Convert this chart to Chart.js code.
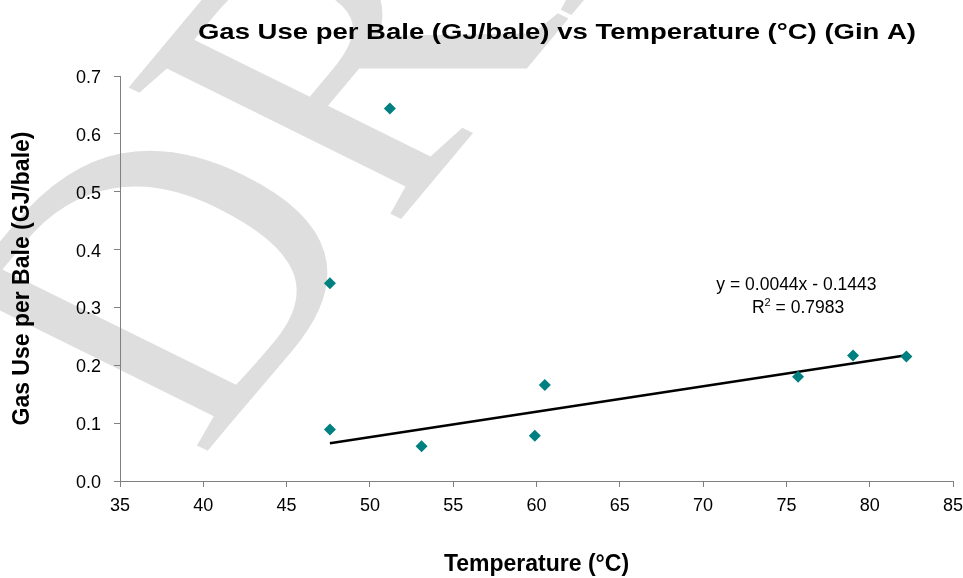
<!DOCTYPE html>
<html>
<head>
<meta charset="utf-8">
<script src="https://cdn.jsdelivr.net/npm/chart.js@4/dist/chart.umd.min.js"></script>
<style>
  body { margin: 0; background: #fff; }
  #wrap { width: 963px; height: 578px; }
</style>
</head>
<body>
<div id="wrap"><canvas id="scatterChart"></canvas></div>
<script>
// data
const temps = [47.6, 47.6, 51.2, 53.1, 59.9, 60.5, 75.7, 79.0, 82.2];
const gasUse = [0.089, 0.342, 0.644, 0.060, 0.078, 0.166, 0.180, 0.217, 0.215];
const slope = 0.0044;
const intercept = -0.1443;
const rSquared = 0.7983;
const xTicks = [35, 40, 45, 50, 55, 60, 65, 70, 75, 80, 85];
const yTicks = [0, 0.1, 0.2, 0.3, 0.4, 0.5, 0.6, 0.7];

const points = temps.map((t, i) => ({ x: t, y: gasUse[i] }));
const xMin = Math.min(...temps);
const xMax = Math.max(...temps);
const trend = [xMin, xMax].map(x => ({ x: x, y: slope * x + intercept }));

const sans = '"Liberation Sans", Arial, sans-serif';

// big grey DRAFT stamp behind everything (page was stretched sideways)
const watermark = {
    id: 'watermark',
    beforeDraw(chart) {
        const ctx = chart.ctx;
        ctx.save();
        ctx.fillStyle = '#ffffff';
        ctx.fillRect(0, 0, chart.width, chart.height);
        ctx.translate(200, 460);
        ctx.scale(1.3, 1);
        ctx.rotate(-1.0);
        ctx.font = '378px "Liberation Serif", "Times New Roman", serif';
        ctx.fillStyle = '#dedede';
        ctx.fillText('DRAFT', 0, 0);
        ctx.restore();
    }
};

// chart title and trendline label
const labels = {
    id: 'labels',
    afterDraw(chart) {
        const ctx = chart.ctx;
        const xs = chart.scales.x;
        const ys = chart.scales.y;
        ctx.save();
        ctx.fillStyle = '#000';
        ctx.textBaseline = 'middle';
        ctx.textAlign = 'center';

        ctx.save();
        ctx.translate(557, 33);
        ctx.scale(1.25, 1);
        ctx.font = 'bold 22px ' + sans;
        ctx.fillText('Gas Use per Bale (GJ/bale) vs Temperature (\u00B0C) (Gin A)', 0, 0);
        ctx.restore();

        ctx.font = '17.5px ' + sans;
        ctx.fillText('y = ' + slope.toFixed(4) + 'x - ' + Math.abs(intercept).toFixed(4),
            xs.getPixelForValue(75.6), ys.getPixelForValue(0.338));

        // R squared with a raised 2
        const rest = ' = ' + rSquared.toFixed(4);
        const wR = ctx.measureText('R').width;
        const wRest = ctx.measureText(rest).width;
        ctx.font = '11px ' + sans;
        const w2 = ctx.measureText('2').width;
        const total = wR + w2 + wRest;
        const cx = xs.getPixelForValue(75.7);
        const cy = ys.getPixelForValue(0.298);
        let x0 = cx - total / 2;
        ctx.textAlign = 'left';
        ctx.font = '17.5px ' + sans;
        ctx.fillText('R', x0, cy);
        ctx.font = '11px ' + sans;
        ctx.fillText('2', x0 + wR, cy - 6);
        ctx.font = '17.5px ' + sans;
        ctx.fillText(rest, x0 + wR + w2, cy);
        ctx.restore();
    }
};

const ctx = document.getElementById('scatterChart').getContext('2d');
const scatterChart = new Chart(ctx, {
    type: 'scatter',
    data: {
        datasets: [{
            label: 'Gas use',
            data: points,
            pointStyle: 'rectRot',
            pointRadius: 6,
            pointHoverRadius: 6,
            backgroundColor: '#008080',
            borderColor: '#008080',
            borderWidth: 0
        }, {
            label: 'Trend',
            type: 'line',
            data: trend,
            borderColor: '#000',
            borderWidth: 2.5,
            pointRadius: 0,
            fill: false
        }]
    },
    plugins: [watermark, labels],
    options: {
        responsive: true,
        maintainAspectRatio: false,
        animation: false,
        layout: {
            padding: { top: 76, right: 10, bottom: 0, left: 0 }
        },
        plugins: {
            legend: { display: false },
            title: { display: false },
            tooltip: { enabled: false }
        },
        scales: {
            x: {
                type: 'linear',
                min: 35,
                max: 85,
                afterBuildTicks: s => { s.ticks = xTicks.map(v => ({ value: v })); },
                afterFit: s => { s.height = 97; s.paddingRight = 0; s.paddingLeft = 0; },
                grid: { drawOnChartArea: false, drawTicks: true, tickLength: 6, color: '#808080' },
                border: { display: true, color: '#808080', width: 1 },
                ticks: {
                    color: '#000',
                    padding: 8,
                    maxRotation: 0,
                    font: { family: sans, size: 18 }
                },
                title: {
                    display: true,
                    text: 'Temperature (\u00B0C)',
                    color: '#000',
                    font: { family: sans, size: 23, weight: 'bold' },
                    padding: { top: 0, bottom: 0 }
                }
            },
            y: {
                type: 'linear',
                min: 0,
                max: 0.7,
                afterBuildTicks: s => { s.ticks = yTicks.map(v => ({ value: v })); },
                afterFit: s => { s.width = 120; },
                grid: { drawOnChartArea: false, drawTicks: true, tickLength: 6, color: '#808080' },
                border: { display: true, color: '#808080', width: 1 },
                ticks: {
                    color: '#000',
                    padding: 13,
                    labelOffset: 2,
                    font: { family: sans, size: 18 },
                    callback: v => v.toFixed(1)
                },
                title: {
                    display: true,
                    text: 'Gas Use per Bale (GJ/bale)',
                    color: '#000',
                    font: { family: sans, size: 23, weight: 'bold' },
                    padding: { top: 9, bottom: 0 }
                }
            }
        }
    }
});
</script>
</body>
</html>
